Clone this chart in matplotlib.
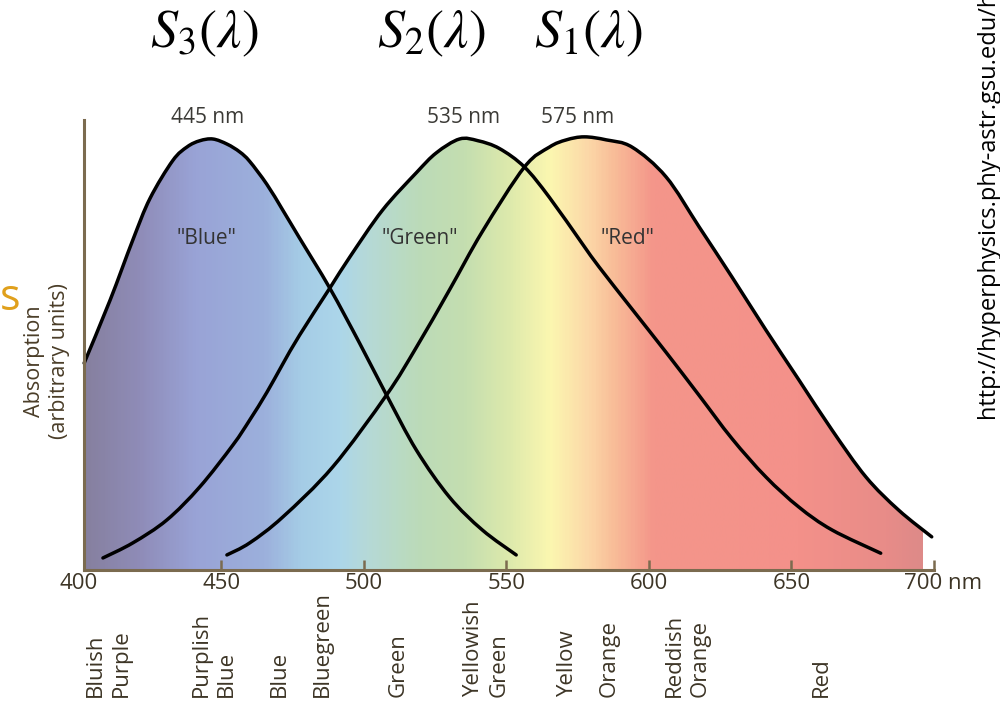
import numpy as np
import matplotlib.pyplot as plt
from matplotlib.colors import LinearSegmentedColormap
from matplotlib.patches import PathPatch
from matplotlib.path import Path
from matplotlib import transforms

plt.rcParams['font.family'] = ['Open Sans', 'DejaVu Sans']
plt.rcParams['mathtext.fontset'] = 'stix'

# cone absorption curves: wavelength (nm) and relative absorption
s3_nm = [401.8, 410.9, 418.9, 424.9, 432.9, 438.0, 442.4, 447.0, 452.0, 456.4,
         459.9, 465.9, 471.5, 477.4, 488.0, 498.4, 507.9, 518.4, 530.0, 541.5, 553.4]
s3_val = [0.480, 0.626, 0.766, 0.862, 0.950, 0.982, 0.996, 1.000, 0.988, 0.970,
          0.948, 0.895, 0.835, 0.770, 0.654, 0.527, 0.406, 0.278, 0.169, 0.093, 0.035]

s2_nm = [408.4, 418.9, 430.8, 442.4, 454.0, 459.9, 465.9, 471.5, 477.4, 488.0,
         495.0, 506.5, 518.4, 525.4, 533.5, 540.0, 547.5, 556.3, 565.0, 576.6,
         582.5, 594.1, 606.0, 617.6, 629.1, 641.0, 652.6, 664.2, 681.3]
s2_val = [0.028, 0.063, 0.116, 0.193, 0.290, 0.348, 0.412, 0.478, 0.545, 0.654,
          0.726, 0.835, 0.922, 0.968, 1.000, 0.996, 0.978, 0.935, 0.865, 0.757,
          0.703, 0.605, 0.505, 0.405, 0.305, 0.216, 0.146, 0.093, 0.039]

s1_nm = [451.9, 459.9, 471.5, 489.0, 507.9, 518.4, 530.0, 541.5, 556.3, 565.0,
         571.0, 577.3, 585.0, 594.1, 606.0, 617.6, 629.1, 641.0, 652.6, 664.2,
         676.1, 687.6, 699.2]
s1_val = [0.035, 0.063, 0.123, 0.239, 0.406, 0.517, 0.650, 0.785, 0.935, 0.981,
          0.998, 1.005, 0.998, 0.981, 0.912, 0.796, 0.680, 0.557, 0.441, 0.325,
          0.216, 0.139, 0.077]

peak_nm = [445, 535, 575]
peak_labels = ['445 nm', '535 nm', '575 nm']
cone_names = ['"Blue"', '"Green"', '"Red"']
cone_symbols = [r'$S_3(\lambda)$', r'$S_2(\lambda)$', r'$S_1(\lambda)$']

tick_nm = [400, 450, 500, 550, 600, 650, 700]
tick_labels = ['400', '450', '500', '550', '600', '650', '']

hue_names = ['Bluish\nPurple', 'Purplish\nBlue', 'Blue', 'Bluegreen', 'Green',
             'Yellowish\nGreen', 'Yellow', 'Orange', 'Reddish\nOrange', 'Red']
hue_nm = [410.2, 447.3, 470.4, 485.5, 511.8, 543.0, 571.4, 586.1, 613.4, 660.4]

# spectrum colours along the wavelength axis
spec_nm = [401.7, 420.7, 440.0, 464.5, 477.4, 491.0, 500.5, 519.5, 535.0,
           550.3, 565.4, 578.7, 588.0, 601.5, 652.7, 683.5, 696.0]
spec_colors = ['#86809f', '#8f8cb8', '#99a3d6', '#9cb0dc', '#a5cce6', '#acd6ea',
               '#b5d9d8', '#bcdbb8', '#c4deb0', '#dce9ac', '#fbf7b0', '#fcd8a8',
               '#f8bc98', '#f4968a', '#f4918a', '#e88c88', '#de8a88']

axis_col = '#7b6b4f'
text_col = '#3d3526'
x_lo, x_hi = spec_nm[0], spec_nm[-1]


def smooth_segments(x, y):
    # Catmull-Rom through the points, written as cubic Bezier pieces
    pts = np.column_stack([x, y])
    n = len(pts)
    verts, codes = [], []
    for i in range(n - 1):
        p0 = pts[max(i - 1, 0)]
        p1 = pts[i]
        p2 = pts[i + 1]
        p3 = pts[min(i + 2, n - 1)]
        verts += [p1 + (p2 - p0) / 6, p2 - (p3 - p1) / 6, p2]
        codes += [Path.CURVE4] * 3
    return verts, codes


def curve_path(x, y):
    verts, codes = smooth_segments(x, y)
    return Path([(x[0], y[0])] + verts, [Path.MOVETO] + codes)


def area_path(x, y):
    verts, codes = smooth_segments(x, y)
    v = [(x[0], 0), (x[0], y[0])] + verts + [(x[-1], 0), (x[0], 0)]
    c = [Path.MOVETO, Path.LINETO] + codes + [Path.LINETO, Path.CLOSEPOLY]
    return Path(v, c)


fig = plt.figure(figsize=(10, 7.02), dpi=100)
ax = fig.add_axes([0.079, 0.188, 0.855, 0.641])

pos = [(n - x_lo) / (x_hi - x_lo) for n in spec_nm]
spec_cmap = LinearSegmentedColormap.from_list('spectrum', list(zip(pos, spec_colors)))
grad = np.linspace(0, 1, 600)[None, :]

# spectrum shows only underneath the three curves
curves = [(s3_nm, s3_val), (s2_nm, s2_val), (s1_nm, s1_val)]
for nm, val in curves:
    clip = PathPatch(area_path(nm, val), transform=ax.transData,
                     facecolor='none', edgecolor='none')
    im = ax.imshow(grad, cmap=spec_cmap, aspect='auto', interpolation='bilinear',
                   extent=(x_lo, x_hi, 0, 1.05), zorder=1)
    im.set_clip_path(clip)

for nm, val in curves:
    ax.add_patch(PathPatch(curve_path(nm, val), facecolor='none', edgecolor='black',
                           lw=2.5, capstyle='round', joinstyle='round', zorder=3))

ax.set_xlim(400, 700)
ax.set_ylim(0, 1.044)

for side in ['top', 'right']:
    ax.spines[side].set_visible(False)
ax.spines['left'].set_position(('data', x_lo))
ax.spines['bottom'].set_bounds(x_lo, 700)
for side in ['left', 'bottom']:
    ax.spines[side].set_color(axis_col)
    ax.spines[side].set_linewidth(2.2)
    ax.spines[side].set_zorder(4)

ax.set_yticks([])
ax.set_xticks(tick_nm)
ax.set_xticklabels(tick_labels)
ax.tick_params(axis='x', direction='in', length=7, width=1.8, color=axis_col,
               pad=2, labelsize=16, labelcolor=text_col)
ax.xaxis.get_major_ticks()[0].tick1line.set_visible(False)
ax.annotate('700 nm', xy=(700, 0), xycoords='data', xytext=(-30, -3),
            textcoords='offset pixels', ha='left', va='top', fontsize=16,
            color=text_col, annotation_clip=False)

# peak wavelengths and cone names
for p, lab in zip(peak_nm, peak_labels):
    ax.text(p, 1.049, lab, ha='center', va='center', fontsize=15, color='#3b3a36')
for x, name in zip([444.9, 519.5, 592.4], cone_names):
    ax.text(x, 0.77, name, ha='center', va='center', fontsize=15, color='#333333',
            zorder=2)

# symbols above the plot
sym_tr = transforms.blended_transform_factory(ax.transData, fig.transFigure)
for x, sym in zip([443.8, 523.7, 578.7], cone_symbols):
    ax.text(x, 0.932, sym, transform=sym_tr, ha='center', va='baseline', fontsize=39)

# hue names under the axis
for x, name in zip(hue_nm, hue_names):
    ax.text(x, 0.007, name, transform=sym_tr, rotation=90, ha='center', va='bottom',
            multialignment='left', linespacing=1.3, fontsize=16, color=text_col)

fig.text(0.047, 0.486, 'Absorption\n(arbitrary units)', rotation=90, ha='center',
         va='center', multialignment='center', fontsize=15.5, color='#4a3d28')
fig.text(0.0, 0.575, 's', ha='left', va='center', fontsize=31, color='#e0a01c')
fig.text(1.0, 0.405, 'http://hyperphysics.phy-astr.gsu.edu/hbase/vision/colcon.html',
         rotation=90, ha='right', va='bottom', fontsize=17, color='black')

fig.savefig('out.png', dpi=100)
